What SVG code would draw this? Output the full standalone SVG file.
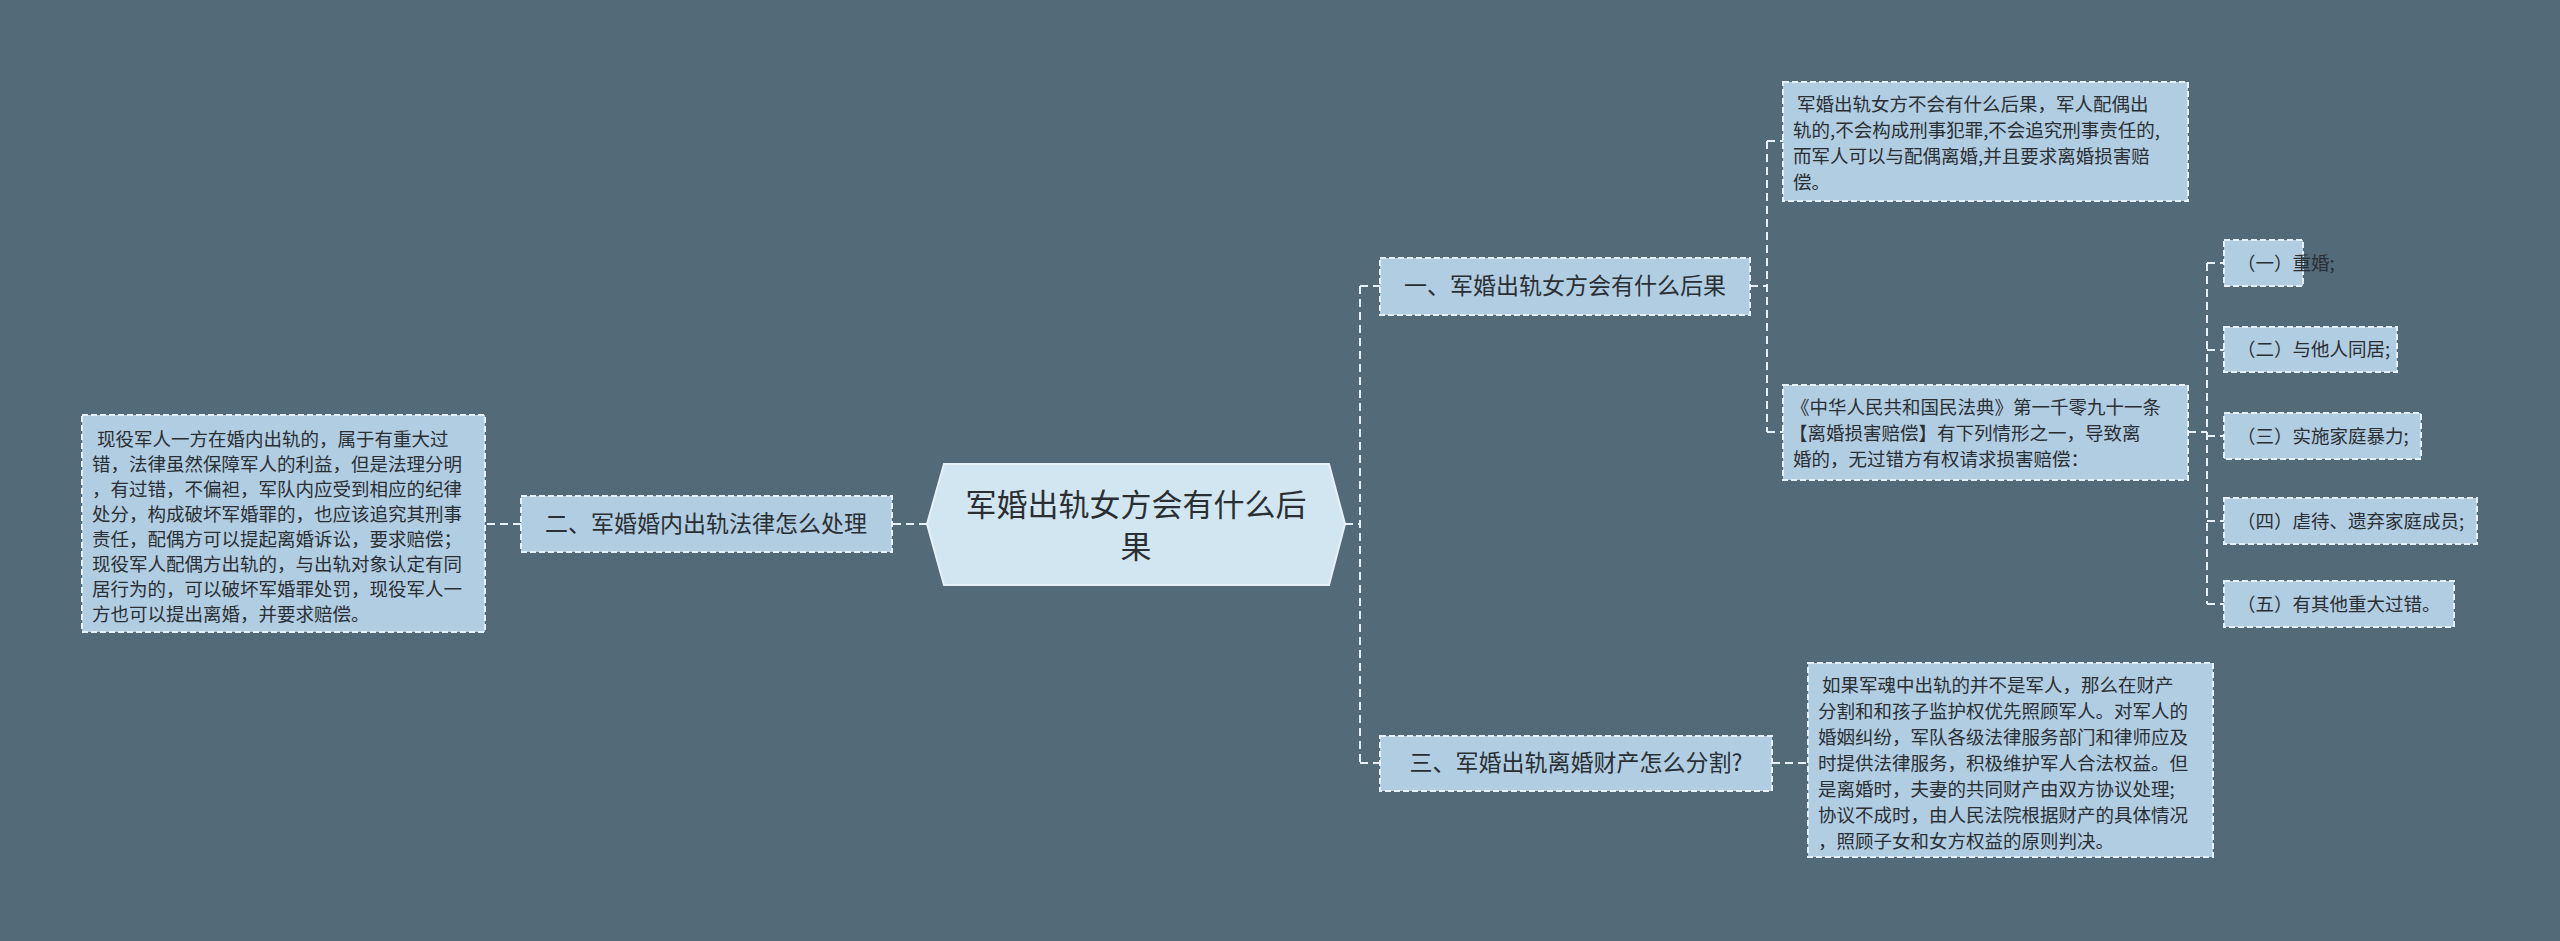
<svg xmlns="http://www.w3.org/2000/svg" width="2560" height="941" viewBox="0 0 2560 941">
<style>
text{font-family:"Noto Sans CJK SC","Liberation Sans",sans-serif;fill:#2a2f33}
.n{fill:#b1cde2;stroke:#e6f0f7;stroke-width:2;stroke-dasharray:6 3}
.l{font-size:23px}
.s{font-size:18.5px}
.c{fill:none;stroke:#e6f0f7;stroke-width:2;stroke-dasharray:8 5}
</style>
<rect width="2560" height="941" fill="#536a79"/>
<g id="connectors">
<path class="c" d="M1345 524H1360M1360 286V763M1360 286H1380M1360 763H1380"/>
<path class="c" d="M927 524H892M521 524H485"/>
<path class="c" d="M1750 286H1767M1767 141V432M1767 141H1783M1767 432H1783"/>
<path class="c" d="M2188 432H2207M2207 263V604M2207 263H2224M2207 350H2224M2207 436H2224M2207 521H2224M2207 604H2224"/>
<path class="c" d="M1772 763H1808"/>
</g>
<g id="center"><polygon points="927,524 944,464 1329,464 1345,524 1329,585 944,585" fill="#d2e6f2" stroke="#e6f0f7" stroke-width="2"/>
<text x="1136" y="516" font-size="31" text-anchor="middle">军婚出轨女方会有什么后</text><text x="1136" y="558" font-size="31" text-anchor="middle">果</text></g>
<g id="n2"><rect class="n" x="521" y="496" width="371" height="56"/><text class="l" x="706" y="532" text-anchor="middle">二、军婚婚内出轨法律怎么处理</text></g>
<g id="n2a"><rect class="n" x="82" y="415" width="403" height="217"/>
<text class="s" x="92"><tspan x="97" y="446">现役军人一方在婚内出轨的，属于有重大过</tspan><tspan x="92" y="471">错，法律虽然保障军人的利益，但是法理分明</tspan><tspan x="92" y="496">，有过错，不偏袒，军队内应受到相应的纪律</tspan><tspan x="92" y="521">处分，构成破坏军婚罪的，也应该追究其刑事</tspan><tspan x="92" y="546">责任，配偶方可以提起离婚诉讼，要求赔偿；</tspan><tspan x="92" y="571">现役军人配偶方出轨的，与出轨对象认定有同</tspan><tspan x="92" y="596">居行为的，可以破坏军婚罪处罚，现役军人一</tspan><tspan x="92" y="621">方也可以提出离婚，并要求赔偿。</tspan></text></g>
<g id="n1"><rect class="n" x="1380" y="258" width="370" height="57"/><text class="l" x="1565" y="294" text-anchor="middle">一、军婚出轨女方会有什么后果</text></g>
<g id="n1a"><rect class="n" x="1783" y="82" width="405" height="119"/>
<text class="s"><tspan x="1797" y="111">军婚出轨女方不会有什么后果，军人配偶出</tspan><tspan x="1793" y="137">轨的,不会构成刑事犯罪,不会追究刑事责任的,</tspan><tspan x="1793" y="163">而军人可以与配偶离婚,并且要求离婚损害赔</tspan><tspan x="1793" y="189">偿。</tspan></text></g>
<g id="n1b"><rect class="n" x="1783" y="385" width="405" height="95"/>
<text class="s"><tspan x="1791" y="414">《中华人民共和国民法典》第一千零九十一条</tspan><tspan x="1789" y="440">【离婚损害赔偿】有下列情形之一，导致离</tspan><tspan x="1793" y="466">婚的，无过错方有权请求损害赔偿：</tspan></text></g>
<g id="i1"><rect class="n" x="2224" y="240" width="79" height="46"/><text class="s" x="2237" y="270">（一）重婚;</text></g>
<g id="i2"><rect class="n" x="2224" y="327" width="173" height="45"/><text class="s" x="2237" y="356">（二）与他人同居;</text></g>
<g id="i3"><rect class="n" x="2224" y="413" width="197" height="46"/><text class="s" x="2237" y="443">（三）实施家庭暴力;</text></g>
<g id="i4"><rect class="n" x="2224" y="498" width="253" height="46"/><text class="s" x="2237" y="528">（四）虐待、遗弃家庭成员;</text></g>
<g id="i5"><rect class="n" x="2224" y="581" width="230" height="46"/><text class="s" x="2237" y="611">（五）有其他重大过错。</text></g>
<g id="n3"><rect class="n" x="1380" y="736" width="392" height="55"/><text class="l" x="1576" y="771" text-anchor="middle">三、军婚出轨离婚财产怎么分割?</text></g>
<g id="n3a"><rect class="n" x="1808" y="663" width="405" height="194"/>
<text class="s"><tspan x="1822" y="692">如果军魂中出轨的并不是军人，那么在财产</tspan><tspan x="1818" y="718">分割和和孩子监护权优先照顾军人。对军人的</tspan><tspan x="1818" y="744">婚姻纠纷，军队各级法律服务部门和律师应及</tspan><tspan x="1818" y="770">时提供法律服务，积极维护军人合法权益。但</tspan><tspan x="1818" y="796">是离婚时，夫妻的共同财产由双方协议处理;</tspan><tspan x="1818" y="822">协议不成时，由人民法院根据财产的具体情况</tspan><tspan x="1818" y="848">，照顾子女和女方权益的原则判决。</tspan></text></g>
</svg>
